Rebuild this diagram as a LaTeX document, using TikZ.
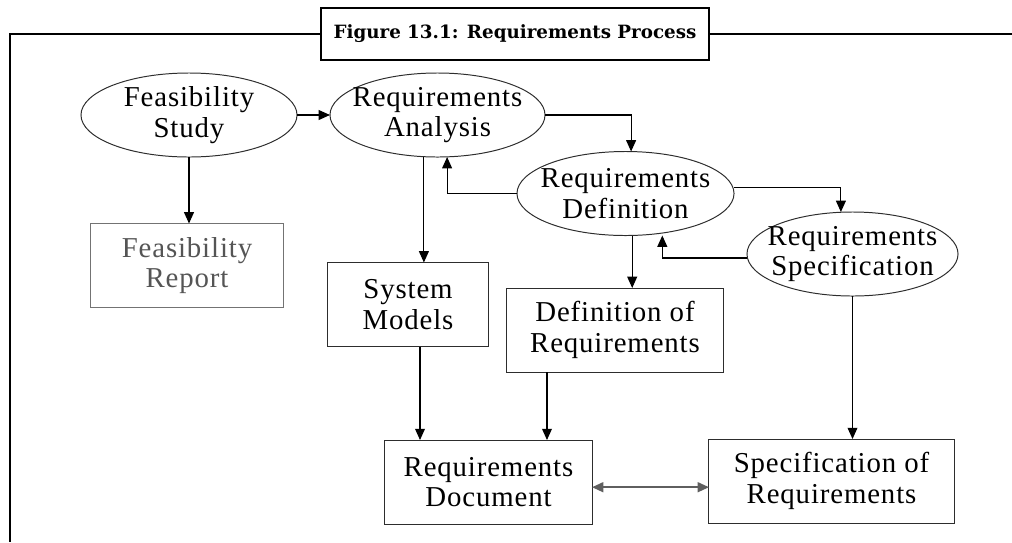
\documentclass[tikz,border=0pt]{standalone}
\usepackage{fontspec}
\setmainfont{Liberation Serif}[LetterSpace=3]
\newfontfamily\titlefont{DejaVu Serif}
\usepackage{tikz}
\usetikzlibrary{arrows.meta, positioning, shapes.geometric, calc}
\definecolor{edge}{RGB}{45, 45, 45}
\definecolor{faded}{RGB}{85, 85, 85}
\definecolor{linkgray}{RGB}{95, 95, 95}

\begin{document}
\begin{tikzpicture}[
    x=0.025cm, y=-0.025cm,
    >={Triangle[length=8pt, width=7pt]},
    phase/.style={ellipse, draw=edge, line width=0.7pt, inner sep=-2cm, outer sep=0pt, minimum width=#1, minimum height=2.1cm, align=center, font=\fontsize{20.5}{21.5}\selectfont},
    product/.style={rectangle, draw=edge, line width=0.7pt, inner sep=0pt, outer sep=0pt, minimum width=#1, minimum height=2.1cm, align=center, font=\fontsize{20.5}{21.5}\selectfont},
    caption/.style={rectangle, draw=black, fill=white, line width=2pt, minimum width=9.7cm, minimum height=1.3cm, font=\titlefont\bfseries\fontsize{13}{15}\selectfont},
    frameline/.style={line width=1.9pt, black},
    arr/.style={->, line width=0.8pt, black},
    dblarr/.style={<->, line width=1.3pt, linkgray}
  ]
  \useasboundingbox (0,0) rectangle (1012,542);

  % Frame and caption
  \draw[frameline] (1012,34) -| (10,542);
  \node[caption] (title) at (515,34) {Figure 13.1: Requirements Process};

  % Activities
  \foreach \n/\x/\y/\w/\t in {%
    fs/189/115/5.4cm/{Feasibility\\Study},
    ra/437.5/115/5.375cm/{Requirements\\Analysis},
    rd/625.5/193.5/5.425cm/{Requirements\\Definition},
    rs/852.5/254/5.275cm/{Requirements\\Specification}} {
    \node[phase=\w] (\n) at (\x,\y) {\t};
  }

  % Deliverables
  \node[product=4.8cm, text=faded, draw=black!55] (fr) at (187,265.5) {Feasibility\\Report};
  \foreach \n/\x/\y/\w/\t in {%
    sm/408/304.5/4cm/{System\\Models},
    dr/615/330/5.4cm/{Definition of\\Requirements},
    doc/488.5/482/5.175cm/{Requirements\\Document},
    sr/831.5/481/6.125cm/{Specification of\\Requirements}} {
    \node[product=\w] (\n) at (\x,\y) {\t};
  }

  % Arrows
  \draw[arr] (fs.east) -- (ra.west);
  \draw[arr] (fs.south) -- (fs.south |- fr.north);
  \draw[arr] (ra.east) -| ([xshift=0.14cm]rd.north);
  \draw[arr] (rd.west) -| ([xshift=0.24cm]ra.south);
  \draw[arr] ([xshift=-0.34cm]ra.south) -- ([xshift=-0.34cm]ra.south |- sm.north);
  \draw[arr] ([yshift=0.16cm]rd.east) -| ([xshift=-0.29cm]rs.north);
  \draw[arr] ([yshift=-0.1cm]rs.west) -| ([xshift=0.92cm]rd.south);
  \draw[arr] ([xshift=0.43cm]dr.north |- rd.south) -- ([xshift=0.43cm]dr.north);
  \draw[arr] ([xshift=0.3cm]sm.south) -- ([xshift=0.3cm]sm.south |- doc.north);
  \draw[arr] ([xshift=-1.7cm]dr.south) -- ([xshift=-1.7cm]dr.south |- doc.north);
  \draw[arr] (rs.south) -- (rs.south |- sr.north);
  \draw[dblarr] ([yshift=-0.13cm]doc.east) -- ([yshift=-0.13cm]doc.east -| sr.west);

\end{tikzpicture}
\end{document}
